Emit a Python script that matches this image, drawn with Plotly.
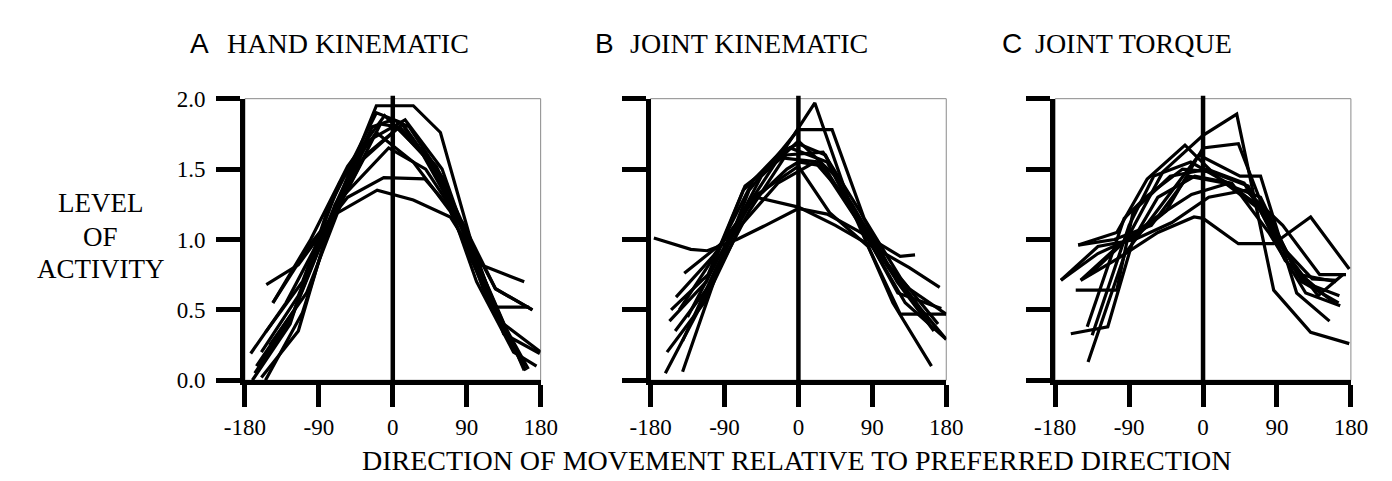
import plotly.graph_objects as go

W, H = 1392, 481

# ---------------- data ----------------
tick_vals_x = [-180, -90, 0, 90, 180]
tick_text_x = ["-180", "-90", "0", "90", "180"]
tick_vals_y = [0, 0.5, 1.0, 1.5, 2.0]
tick_text_y = ["0.0", "0.5", "1.0", "1.5", "2.0"]

panel_letters = ["A", "B", "C"]
panel_titles = ["HAND KINEMATIC", "JOINT KINEMATIC", "JOINT TORQUE"]

hand_x = [
    [-155, -110, -65, -20, 25, 58, 102, 160],
    [-171, -125, -80, -20, 10, 55, 100, 120, 166],
    [-154, -115, -70, -19, 25, 70, 107, 160],
    [-146, -100, -55, -10, 35, 80, 125, 170],
    [-173, -130, -85, -40, 8, 53, 98, 135, 179],
    [-166, -120, -75, -30, 15, 60, 105, 150, 162],
    [-155, -110, -65, -20, 25, 70, 115, 160],
    [-160, -115, -70, -5, 40, 85, 130, 165],
    [-146, -100, -55, -11, 39, 85, 125, 170],
    [-168, -123, -78, -33, 12, 57, 102, 147, 175],
    [-160, -115, -70, -25, 0, 20, 65, 110, 155],
    [-150, -105, -60, -15, 5, 45, 90, 135, 180],
]
hand_y = [
    [0.00, 0.48, 1.30, 1.95, 1.95, 1.76, 0.85, 0.07],
    [0.00, 0.40, 1.20, 1.90, 1.83, 1.45, 0.90, 0.52, 0.52],
    [0.68, 0.82, 1.18, 1.35, 1.28, 1.16, 0.82, 0.70],
    [0.55, 1.00, 1.52, 1.88, 1.62, 1.15, 0.65, 0.50],
    [0.19, 0.55, 1.05, 1.55, 1.80, 1.52, 0.95, 0.33, 0.19],
    [0.10, 0.50, 1.15, 1.70, 1.85, 1.50, 0.75, 0.20, 0.07],
    [0.34, 0.70, 1.40, 1.76, 1.55, 1.20, 0.60, 0.10],
    [0.20, 0.60, 1.25, 1.65, 1.50, 1.10, 0.45, 0.08],
    [0.55, 0.97, 1.30, 1.44, 1.43, 1.12, 0.65, 0.50],
    [0.05, 0.45, 1.10, 1.60, 1.82, 1.45, 0.70, 0.20, 0.10],
    [0.02, 0.35, 1.25, 1.80, 1.85, 1.80, 1.40, 0.65, 0.15],
    [0.25, 0.62, 1.30, 1.82, 1.80, 1.55, 1.00, 0.40, 0.20],
]

joint_x = [
    [-176, -131, -111, -75, -40, 0, 35, 73, 124, 142],
    [-162, -117, -72, -27, 20, 60, 105, 150, 180],
    [-141, -100, -60, 0, 41, 80, 125, 170],
    [-157, -112, -67, -22, 0, 33, 70, 115, 160],
    [-155, -110, -65, -20, 25, 70, 115, 162],
    [-149, -104, -59, -14, 0, 31, 76, 121, 174],
    [-139, -94, -52, 0, 45, 90, 135, 180],
    [-141, -100, -55, 0, 38, 85, 124, 180],
    [-160, -115, -70, -25, 20, 65, 110, 155],
    [-150, -105, -60, -15, 30, 75, 120, 165],
    [-135, -90, -45, 0, 45, 90, 135, 172],
    [-145, -100, -55, -10, 35, 80, 130, 180],
]
joint_y = [
    [1.01, 0.93, 0.92, 1.00, 1.10, 1.22, 1.18, 1.06, 0.88, 0.89],
    [0.05, 0.55, 1.15, 1.55, 1.97, 1.30, 0.85, 0.50, 0.29],
    [0.06, 0.75, 1.35, 1.78, 1.78, 1.15, 0.72, 0.40],
    [0.42, 0.70, 1.35, 1.62, 1.68, 1.60, 1.15, 0.75, 0.40],
    [0.50, 0.75, 1.38, 1.58, 1.55, 1.15, 0.55, 0.10],
    [0.59, 0.88, 1.25, 1.50, 1.55, 1.52, 1.10, 0.62, 0.51],
    [0.76, 0.97, 1.30, 1.23, 1.10, 0.95, 0.65, 0.47],
    [0.28, 0.80, 1.30, 1.52, 1.19, 0.95, 0.47, 0.47],
    [0.20, 0.55, 1.10, 1.40, 1.55, 1.25, 0.80, 0.45],
    [0.35, 0.70, 1.20, 1.60, 1.62, 1.20, 0.70, 0.35],
    [0.45, 0.95, 1.45, 1.70, 1.45, 0.95, 0.80, 0.66],
    [0.50, 0.90, 1.42, 1.65, 1.55, 1.05, 0.55, 0.29],
]

torque_x = [
    [-138, -93, -49, 0, 41, 86, 131, 178],
    [-173, -128, -83, -45, 0, 43, 88, 133, 163],
    [-152, -105, -68, -22, 25, 70, 115, 160],
    [-149, -105, -55, -11, 0, 43, 86, 131, 178],
    [-155, -105, -85, -40, 5, 50, 95, 140, 170],
    [-161, -116, -85, -55, -10, 35, 80, 125, 167],
    [-141, -96, -70, -25, 10, 55, 100, 145],
    [-135, -90, -60, -15, 30, 75, 120, 165],
    [-140, -95, -50, -5, 45, 70, 114, 154],
    [-152, -108, -63, -18, 27, 72, 117, 162],
    [-173, -128, -83, -38, 7, 52, 97, 142, 174],
    [-149, -104, -59, -14, 31, 76, 121, 166],
]
torque_y = [
    [0.75, 1.00, 1.48, 1.74, 1.89, 0.64, 0.34, 0.26],
    [0.71, 0.90, 1.02, 1.20, 1.65, 1.68, 1.00, 0.72, 0.71],
    [0.96, 1.05, 1.43, 1.67, 1.40, 1.30, 0.75, 0.55],
    [0.71, 0.86, 1.05, 1.16, 1.15, 0.97, 0.97, 1.16, 0.79],
    [0.64, 0.64, 1.20, 1.45, 1.50, 1.40, 0.95, 0.60, 0.75],
    [0.33, 0.38, 1.00, 1.30, 1.45, 1.40, 1.05, 0.62, 0.53],
    [0.38, 1.15, 1.30, 1.50, 1.48, 1.38, 0.85, 0.62],
    [0.32, 1.10, 1.45, 1.55, 1.40, 1.20, 0.70, 0.55],
    [0.13, 0.90, 1.25, 1.60, 1.45, 1.45, 0.62, 0.42],
    [0.96, 1.00, 1.10, 1.45, 1.40, 1.20, 0.75, 0.70],
    [0.71, 0.95, 1.00, 1.12, 1.30, 1.35, 1.10, 0.75, 0.75],
    [0.71, 0.95, 1.15, 1.32, 1.40, 1.20, 0.70, 0.60],
]

panels_x = [hand_x, joint_x, torque_x]
panels_y = [hand_y, joint_y, torque_y]

# ---------------- layout geometry (pixels) ----------------
x_px = [(222, 526), (639, 943), (1055, 1359)]
y_top, y_bot = 83, 380
letter_px = [163, 580, 998]
title_px = [202, 616, 1032]

SERIF = "Liberation Serif, Times New Roman, serif"
SANS = "Liberation Sans, Arial, sans-serif"

fig = go.Figure()

for i in range(3):
    xa = "x" if i == 0 else f"x{i+1}"
    ya = "y" if i == 0 else f"y{i+1}"
    for xs, ys in zip(panels_x[i], panels_y[i]):
        fig.add_trace(go.Scatter(
            x=xs, y=ys, mode="lines", xaxis=xa, yaxis=ya,
            line=dict(color="black", width=3.2), showlegend=False,
            hoverinfo="skip"))

    dom_x = [x_px[i][0] / W, x_px[i][1] / W]
    dom_y = [(H - y_bot) / H, (H - y_top) / H]
    xkey = "xaxis" if i == 0 else f"xaxis{i+1}"
    ykey = "yaxis" if i == 0 else f"yaxis{i+1}"
    fig.update_layout(**{
        xkey: dict(domain=dom_x, range=[-180, 180], anchor=ya,
                   showline=True, linewidth=4.5, linecolor="black",
                   ticks="outside", ticklen=22, tickwidth=4.5, tickcolor="black",
                   tickvals=tick_vals_x, ticktext=tick_text_x,
                   tickfont=dict(family=SERIF, size=23, color="black"),
                   showgrid=False, zeroline=False, fixedrange=True),
        ykey: dict(domain=dom_y, range=[0, 2], anchor=xa,
                   showline=True, linewidth=4.5, linecolor="black",
                   ticks="outside", ticklen=24, tickwidth=4.5, tickcolor="black",
                   tickvals=tick_vals_y, ticktext=tick_text_y,
                   showticklabels=(i == 0), ticklabelstandoff=6,
                   tickfont=dict(family=SERIF, size=23, color="black"),
                   showgrid=False, zeroline=False, fixedrange=True),
    })
    # thin frame (top / right)
    fig.add_shape(type="rect", xref=f"{xa} domain", yref=f"{ya} domain",
                  x0=0, x1=1, y0=0, y1=1, line=dict(color="#8a8a8a", width=1),
                  layer="below")
    # thick vertical line at 0
    fig.add_shape(type="line", xref=xa, yref=f"{ya} domain",
                  x0=0, x1=0, y0=0, y1=1.01, line=dict(color="black", width=4.5))

    fig.add_annotation(x=letter_px[i] / W, y=1 - 25 / H, xref="paper", yref="paper",
                       text=panel_letters[i], showarrow=False, xanchor="left",
                       yanchor="middle", font=dict(family=SANS, size=28, color="black"))
    fig.add_annotation(x=title_px[i] / W, y=1 - 25 / H, xref="paper", yref="paper",
                       text=panel_titles[i], showarrow=False, xanchor="left",
                       yanchor="middle", font=dict(family=SERIF, size=28, color="black"))

for txt, py in [("LEVEL", 193), ("OF", 229), ("ACTIVITY", 263)]:
    fig.add_annotation(x=73 / W, y=1 - py / H, xref="paper", yref="paper",
                       text=txt, showarrow=False, xanchor="center", yanchor="middle",
                       font=dict(family=SERIF, size=27, color="black"))

fig.add_annotation(x=790 / W, y=1 - 465 / H, xref="paper", yref="paper",
                   text="DIRECTION OF MOVEMENT RELATIVE TO PREFERRED DIRECTION",
                   showarrow=False, xanchor="center", yanchor="middle",
                   font=dict(family=SERIF, size=28, color="black"))

fig.update_layout(width=W, height=H, margin=dict(l=0, r=0, t=0, b=0),
                  paper_bgcolor="white", plot_bgcolor="white", showlegend=False)

fig.write_html("out.html")
